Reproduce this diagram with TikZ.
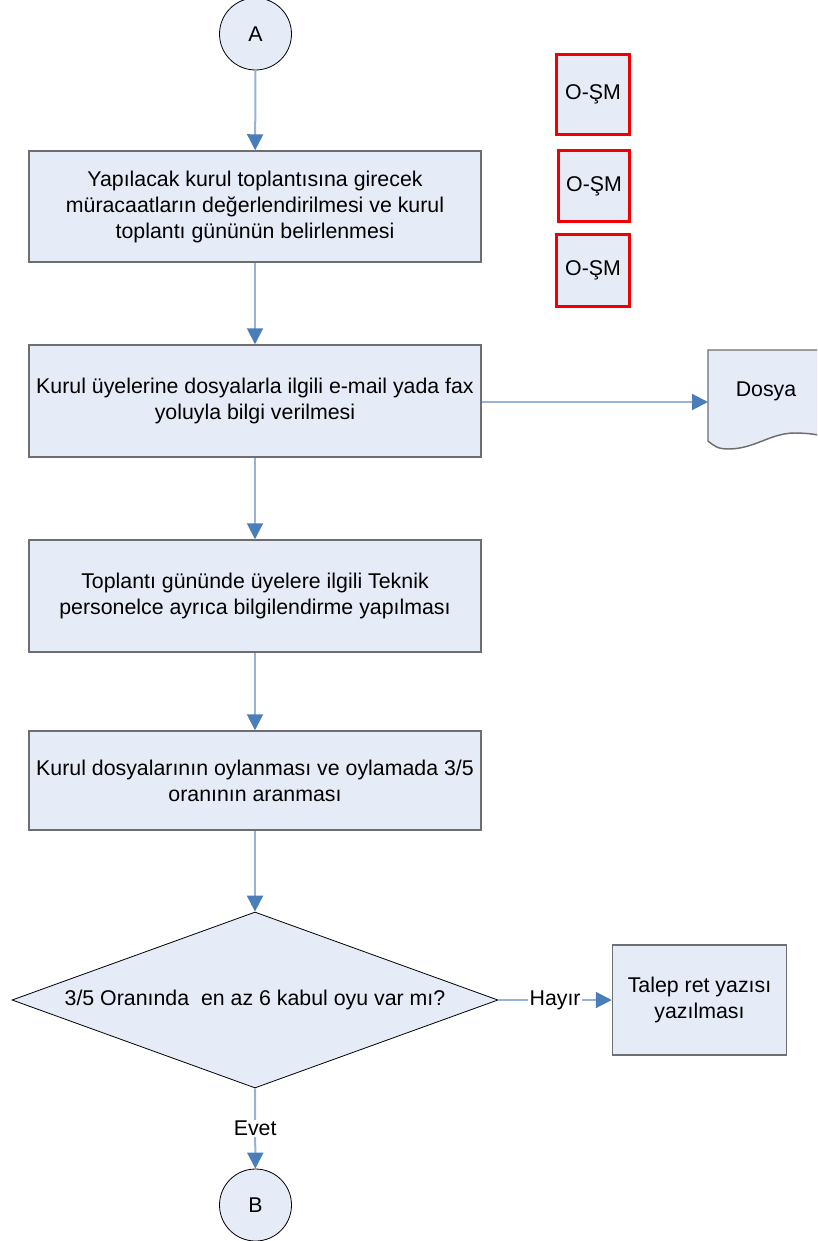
\documentclass[tikz,border=0pt]{standalone}
\usepackage{fontspec}
\setmainfont{Liberation Sans}
\usetikzlibrary{arrows.meta,shapes.geometric}
\newlength\pxu
\setlength\pxu{0.75pt}
\definecolor{boxfill}{RGB}{230,236,247}
\definecolor{boxline}{RGB}{110,110,110}
\definecolor{linkline}{RGB}{149,179,215}
\definecolor{tipblue}{RGB}{74,126,187}
\definecolor{redline}{RGB}{240,0,0}
\tikzset{
  every node/.style={font=\fontsize{16}{19.5}\selectfont},
  procbox/.style={draw=boxline, line width=1.1pt, fill=boxfill, align=center, inner sep=0pt},
  termcirc/.style={circle, draw=black, line width=0.6pt, fill=boxfill, minimum size=72\pxu, inner sep=0pt},
  decision/.style={diamond, draw=black, line width=0.6pt, fill=boxfill, aspect=2.76, minimum width=486\pxu, minimum height=176\pxu, inner sep=0pt},
  tagbox/.style={draw=redline, line width=2.2pt, fill=boxfill, inner sep=0pt},
  link/.style={draw=linkline, line width=1.5pt, -{Triangle[length=12pt, width=12pt, color=tipblue]}},
  linklabel/.style={fill=white, inner sep=1pt}
}
\begin{document}
\begin{tikzpicture}[x=0.75pt, y=-0.75pt]
\useasboundingbox (0,0) rectangle (817,1241);
\clip (0,0) rectangle (817,1241);

% terminals
\node[termcirc] (A) at (255.5,34) {A};
\node[termcirc] (B) at (255.5,1205) {B};

% process boxes
\node[procbox, minimum width=452\pxu, minimum height=111\pxu] (p1) at (255,206.5)
  {\rule{0pt}{8pt}Yapılacak kurul toplantısına girecek\\müracaatların değerlendirilmesi ve kurul\\toplantı gününün belirlenmesi};
\node[procbox, minimum width=452\pxu, minimum height=112\pxu] (p2) at (255,401)
  {Kurul üyelerine dosyalarla ilgili e-mail yada fax\\yoluyla bilgi verilmesi};
\node[procbox, minimum width=452\pxu, minimum height=112\pxu] (p3) at (255,596)
  {Toplantı gününde üyelere ilgili Teknik\\personelce ayrıca bilgilendirme yapılması};
\node[procbox, minimum width=452\pxu, minimum height=99\pxu] (p4) at (255,780.5)
  {Kurul dosyalarının oylanması ve oylamada 3/5\\oranının aranması};

% decision
\node[decision] (d) at (255,1000) {3/5 Oranında\ \ en az 6 kabul oyu var mı?};

% reject box
\node[procbox, minimum width=174\pxu, minimum height=110\pxu] (ret) at (699.5,1000)
  {Talep ret yazısı\\yazılması};

% O-ŞM tags
\node[tagbox, minimum width=73\pxu, minimum height=80\pxu] (t1) at (593,94.5) {O-ŞM};
\node[tagbox, minimum width=71\pxu, minimum height=71\pxu] (t2) at (594,186) {O-ŞM};
\node[tagbox, minimum width=73\pxu, minimum height=72\pxu] (t3) at (593,270.5) {O-ŞM};

% document shape
\draw[draw=boxline, line width=1.1pt, fill=boxfill]
  (708,350) -- (830,350) -- (830,438)
  .. controls (822,435) and (808,433) .. (795,433)
  .. controls (770,433) and (755,449) .. (728,449)
  .. controls (718,449) and (714,446) .. (708,441) -- cycle;
\node (dosya) at (766,391) {Dosya};
\coordinate (dosyaIn) at (708,402);

% connectors
\draw[link] (A) -- (p1);
\draw[link] (p1) -- (p2);
\draw[link] (p2) -- (p3);
\draw[link] (p3) -- (p4);
\draw[link] (p4) -- (d);
\draw[link] (p2.east |- dosyaIn) -- (dosyaIn);
\draw[link] (d.east) -- node[linklabel] (hayir) {Hayır} (ret.west);
\draw[link] (d.south) -- node[linklabel] (evet) {Evet} (B);
\end{tikzpicture}
\end{document}
